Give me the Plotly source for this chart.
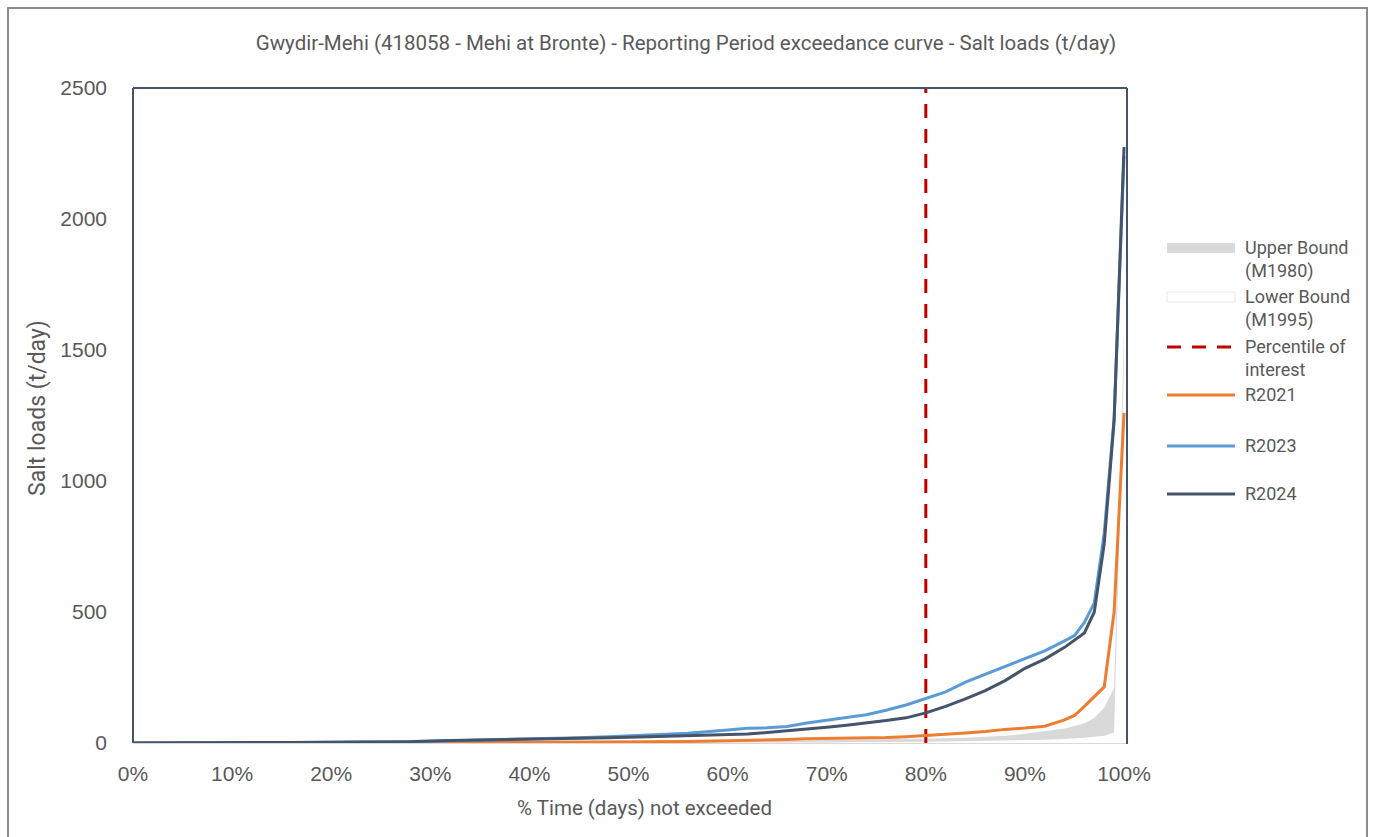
import plotly.graph_objects as go

# Percentage of time (days) not exceeded, as fractions
pct = [0, 4, 8, 12, 16, 20, 24, 28, 32, 36, 40, 44, 48, 52, 56, 60, 62, 64, 66, 68,
       70, 72, 74, 76, 78, 80, 82, 84, 86, 88, 90, 92, 94, 95, 96, 97, 98, 99, 100]
time_frac = [p / 100 for p in pct]

# Salt loads (t/day)
upper_m1980 = [0, 0, 0, 1, 1, 1, 1, 2, 2, 2, 3, 3, 4, 4, 5, 5, 6, 7, 8, 9,
               10, 11, 12, 13, 14, 16, 18, 20, 24, 28, 35, 45, 55, 65, 75, 95, 135, 210, 1580]
lower_m1995 = [0, 0, 0, 0, 0, 0, 0, 0, 0, 0, 0, 0, 1, 1, 1, 1, 1, 2, 2, 2,
               2, 3, 3, 4, 4, 5, 6, 7, 8, 9, 10, 12, 15, 17, 20, 24, 28, 40, 1450]
r2021 = [0, 0, 0, 0, 0, 0, 0, 1, 2, 2, 3, 3, 4, 5, 6, 8, 10, 11, 13, 16,
         17, 17, 18, 21, 24, 28, 32, 38, 44, 52, 57, 64, 88, 105, 140, 178, 214, 500, 1260]
r2023 = [0, 0, 2, 2, 2, 3, 4, 6, 9, 12, 16, 19, 24, 30, 37, 50, 56, 58, 63, 76,
         86, 96, 108, 125, 145, 170, 195, 232, 262, 292, 320, 352, 390, 410, 460, 535, 800, 1240, 2240]
r2024 = [0, 0, 2, 2, 2, 3, 3, 5, 10, 12, 14, 17, 20, 24, 28, 32, 34, 40, 46, 52,
         60, 68, 76, 86, 96, 115, 140, 168, 200, 238, 285, 320, 365, 392, 420, 500, 760, 1230, 2275]

percentile_of_interest = 0.8
y_max = 2500

C_UPPER = "#d9d9d9"
C_PCT = "#c00000"
C_2021 = "#ed7d31"
C_2023 = "#5b9bd5"
C_2024 = "#44546a"
C_TEXT = "#595959"

W, H = 1379, 837
L, R, T, B = 133, 1127, 88, 743  # plot area in pixels


def px(x):
    return (x - L) / (R - L)


def py(y):
    return (B - y) / (B - T)


fig = go.Figure()

fig.add_trace(go.Scatter(x=time_frac, y=upper_m1980, name="Upper Bound (M1980)",
                         mode="lines", fill="tozeroy", fillcolor=C_UPPER,
                         line=dict(width=0, color=C_UPPER), showlegend=False))
fig.add_trace(go.Scatter(x=time_frac, y=lower_m1995, name="Lower Bound (M1995)",
                         mode="lines", fill="tozeroy", fillcolor="white",
                         line=dict(width=0, color="white"), showlegend=False))
fig.add_trace(go.Scatter(x=[percentile_of_interest, percentile_of_interest], y=[0, y_max],
                         name="Percentile of interest", mode="lines",
                         line=dict(color=C_PCT, width=3, dash="14px,11px"), showlegend=False))
fig.add_trace(go.Scatter(x=time_frac, y=r2021, name="R2021", mode="lines",
                         line=dict(color=C_2021, width=3), showlegend=False))
fig.add_trace(go.Scatter(x=time_frac, y=r2023, name="R2023", mode="lines",
                         line=dict(color=C_2023, width=3), showlegend=False))
fig.add_trace(go.Scatter(x=time_frac, y=r2024, name="R2024", mode="lines",
                         line=dict(color=C_2024, width=3), showlegend=False))

shapes = []
# outer chart border
shapes.append(dict(type="rect", xref="paper", yref="paper",
                   x0=px(8), x1=px(1367), y0=py(870), y1=py(8),
                   line=dict(color="#8c8c8c", width=2), layer="below"))
# plot area frame (left, top, right)
for x0, y0, x1, y1 in [(L, T, L, B), (L, T, R, T), (R, T, R, B + 1)]:
    shapes.append(dict(type="line", xref="paper", yref="paper",
                       x0=px(x0), y0=py(y0), x1=px(x1), y1=py(y1),
                       line=dict(color=C_2024, width=2), layer="above"))

# legend
LX0, LX1, TX = 1167, 1235, 1243
shapes.append(dict(type="rect", xref="paper", yref="paper",
                   x0=px(LX0), x1=px(LX1), y0=py(253), y1=py(243),
                   fillcolor=C_UPPER, line=dict(width=0)))
shapes.append(dict(type="rect", xref="paper", yref="paper",
                   x0=px(LX0), x1=px(LX1), y0=py(302), y1=py(292),
                   fillcolor="white", line=dict(color="#e8e8e8", width=1)))
for yy, col, dash in [(347, C_PCT, "14px,11px"), (395, C_2021, "solid"),
                      (446, C_2023, "solid"), (494, C_2024, "solid")]:
    shapes.append(dict(type="line", xref="paper", yref="paper",
                       x0=px(LX0), x1=px(LX1), y0=py(yy), y1=py(yy),
                       line=dict(color=col, width=3, dash=dash)))

legend_font = dict(family="Roboto", size=18, color=C_TEXT)
annotations = []
for yy, txt in [(248, "Upper Bound<br>(M1980)"), (297, "Lower Bound<br>(M1995)"),
                (347, "Percentile of<br>interest"), (395, "R2021"),
                (446, "R2023"), (494, "R2024")]:
    annotations.append(dict(x=px(TX), y=py(yy - 13), xref="paper", yref="paper",
                            text=txt, showarrow=False, xanchor="left", yanchor="top",
                            align="left", font=legend_font))

annotations.append(dict(x=px(37), y=py(408), xref="paper", yref="paper",
                        text="Salt loads (t/day)", showarrow=False, textangle=-90,
                        xanchor="center", yanchor="middle",
                        font=dict(family="Roboto", size=23, color=C_TEXT)))
annotations.append(dict(x=px(644), y=py(808), xref="paper", yref="paper",
                        text="% Time (days) not exceeded", showarrow=False,
                        xanchor="center", yanchor="middle",
                        font=dict(family="Roboto", size=20.5, color=C_TEXT)))

tick_font = dict(family="Liberation Sans", size=21, color=C_TEXT)

fig.update_layout(
    width=W, height=H,
    margin=dict(l=L, r=W - R, t=T, b=H - B),
    paper_bgcolor="white", plot_bgcolor="white",
    title=dict(text="Gwydir-Mehi (418058 - Mehi at Bronte) - Reporting Period exceedance curve - Salt loads (t/day)",
               x=686 / W, xref="container", xanchor="center",
               y=1 - 43 / H, yref="container", yanchor="middle",
               font=dict(family="Roboto", size=20.5, color=C_TEXT)),
    xaxis=dict(range=[0, 1.003], tickmode="array",
               tickvals=[i / 10 for i in range(11)],
               ticktext=[f"{i * 10}%" for i in range(11)],
               showgrid=False, zeroline=False, showline=True, linecolor="#d9d9d9",
               linewidth=1, ticks="", ticklabelstandoff=12, tickfont=tick_font,
               layer="below traces", fixedrange=True),
    yaxis=dict(range=[0, y_max], tickmode="linear", tick0=0, dtick=500,
               showgrid=False, zeroline=False, showline=False, ticks="",
               ticklabelstandoff=25, tickfont=tick_font, fixedrange=True),
    shapes=shapes,
    annotations=annotations,
    showlegend=False,
)

fig.write_html("out.html")
